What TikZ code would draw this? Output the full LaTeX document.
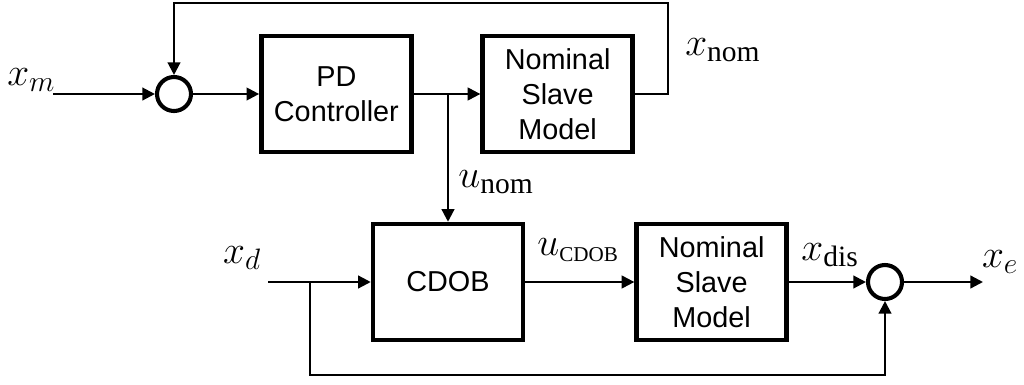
\RequirePackage{fix-cm}
\documentclass[tikz,border=0pt]{standalone}
\usepackage{fontspec}
\setmainfont{Liberation Serif}
\newfontfamily\blockfont{Liberation Sans}
\DeclareMathSizes{28}{28}{21}{15}
\usetikzlibrary{arrows.meta}

\tikzset{
  block/.style={draw, line width=3.2pt, minimum width=3.75cm, minimum height=2.9cm,
    align=center, font=\blockfont\fontsize{20.5}{25}\selectfont},
  sumnode/.style={draw, circle, line width=2.9pt, minimum size=0.85cm, inner sep=0pt},
  sig/.style={line width=1.6pt, -{Triangle[length=9pt,width=9pt]}},
  lbl/.style={font=\fontsize{28}{34}\selectfont, inner sep=0pt},
}

\begin{document}
\begin{tikzpicture}
  \useasboundingbox (0,0) rectangle (25.6,9.6);
  \coordinate (xm)  at (1.325, 7.25);
  \coordinate (br1) at (11.2, 7.25);
  \coordinate (fb)  at (16.7, 9.52);
  \coordinate (xd)  at (6.7, 2.55);
  \coordinate (br2) at (7.75, 2.55);
  \coordinate (bot) at (7.75, 0.23);
  \coordinate (xe)  at (24.575, 2.55);

  % upper loop
  \node[sumnode] (sum1) at (4.35, 7.25) {};
  \node[block] (pd)   at (8.41, 7.25) {PD\\Controller};
  \node[block] (nsm1) at (13.94, 7.25) {Nominal\\Slave\\Model};

  % lower loop
  \node[block] (cdob) at (11.2, 2.55) {CDOB};
  \node[block] (nsm2) at (17.79, 2.55) {Nominal\\Slave\\Model};
  \node[sumnode] (sum2) at (22.125, 2.55) {};

  \draw[sig] (xm) -- (sum1);
  \draw[sig] (sum1) -- (pd);
  \draw[sig] (pd) -- (nsm1);
  \draw[sig] (nsm1.east) -| (fb) -| (sum1);
  \draw[sig] (br1) -- (cdob);

  \draw[sig] (xd) -- (cdob);
  \draw[sig] (cdob) -- (nsm2);
  \draw[sig] (nsm2) -- (sum2);
  \draw[sig] (sum2) -- (xe);
  \draw[sig] (br2) -- (bot) -| (sum2);

  \node[lbl] (lxm)   at (0.78, 7.6)   {$x_m$};
  \node[lbl] (lxnom) at (18.07, 8.35) {$x_{\mathrm{nom}}$};
  \node[lbl] (lunom) at (12.4, 5.05)  {$u_{\mathrm{nom}}$};
  \node[lbl] (lxd)   at (6.05, 3.15)  {$x_d$};
  \node[lbl] (lucd)  at (14.45, 3.35) {$u_{\scriptscriptstyle\mathrm{CDOB}}$};
  \node[lbl] (lxdis) at (20.75, 3.22) {$x_{\mathrm{dis}}$};
  \node[lbl] (lxe)   at (25.0, 3.05)  {$x_e$};
\end{tikzpicture}
\end{document}
